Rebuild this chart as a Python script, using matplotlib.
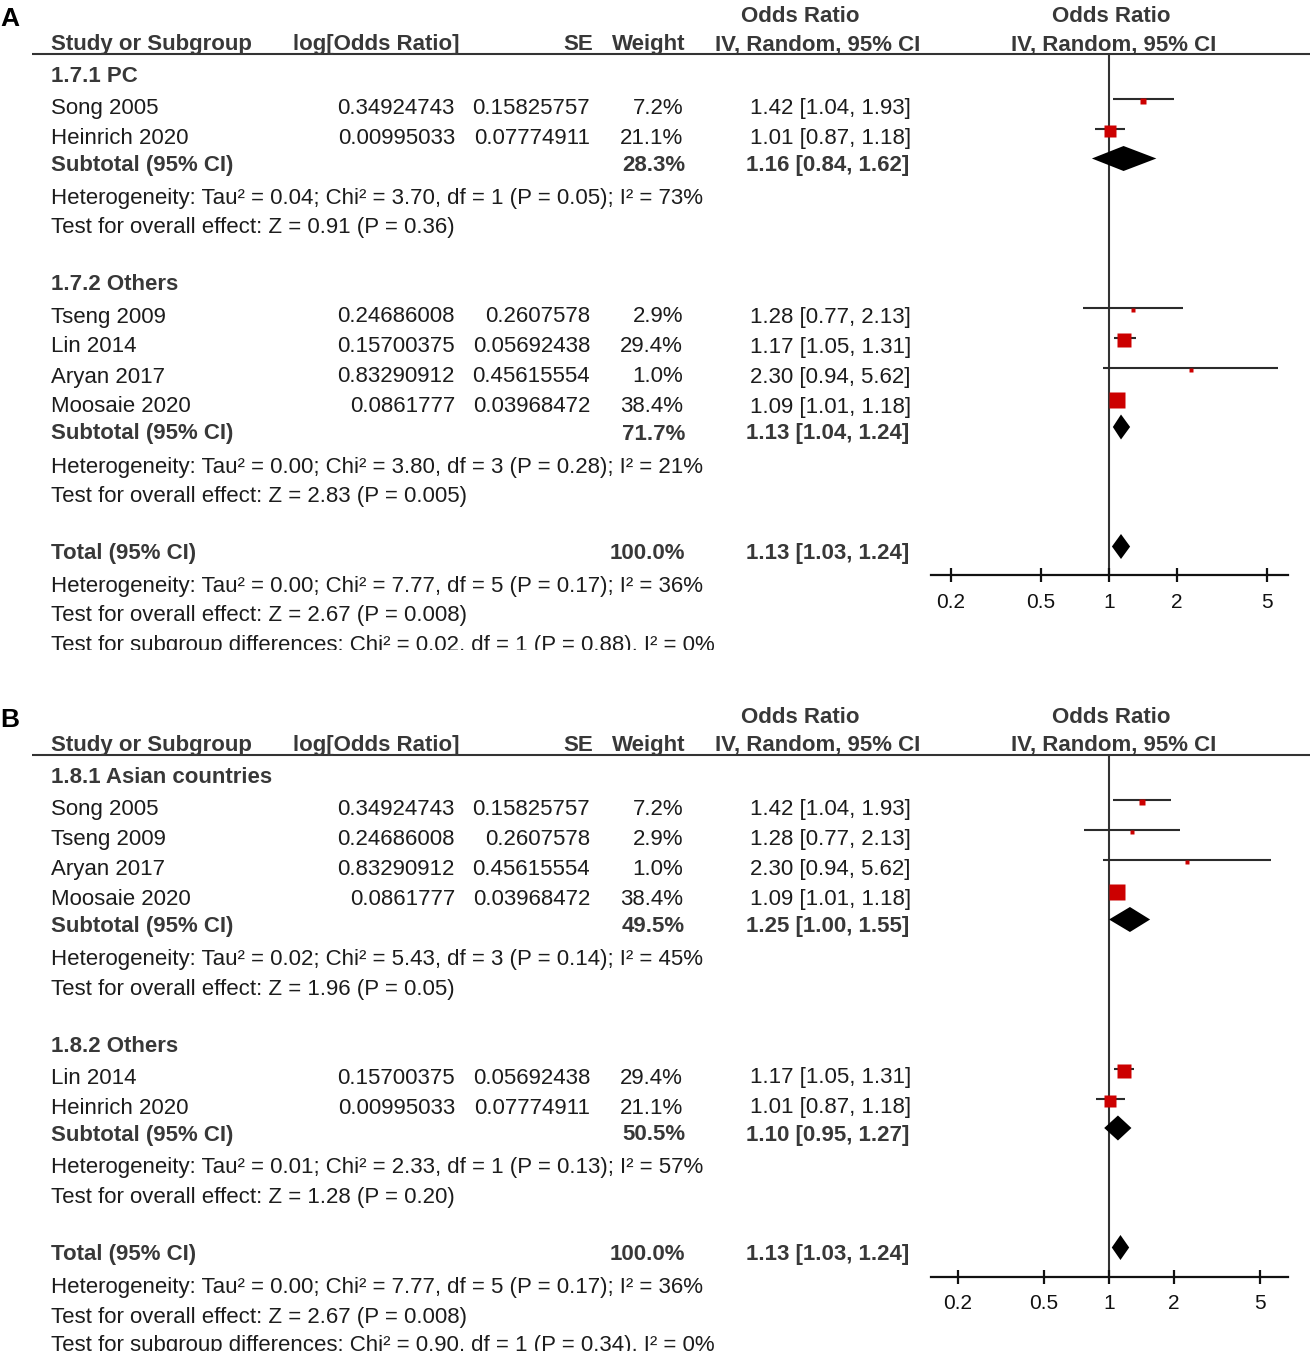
import numpy as np
import matplotlib
matplotlib.use("Agg")
import matplotlib.pyplot as plt
from matplotlib.patches import Polygon
from matplotlib.transforms import Bbox, TransformedBbox

# ---------------- data ----------------
# Panel A
A_label = "A"
A_groups = ["1.7.1 PC", "1.7.2 Others"]
A_study = ["Song 2005", "Heinrich 2020", "Tseng 2009", "Lin 2014", "Aryan 2017", "Moosaie 2020"]
A_group_idx = [0, 0, 1, 1, 1, 1]
A_logor = ["0.34924743", "0.00995033", "0.24686008", "0.15700375", "0.83290912", "0.0861777"]
A_se = ["0.15825757", "0.07774911", "0.2607578", "0.05692438", "0.45615554", "0.03968472"]
A_weight = [7.2, 21.1, 2.9, 29.4, 1.0, 38.4]
A_or = [1.42, 1.01, 1.28, 1.17, 2.30, 1.09]
A_lo = [1.04, 0.87, 0.77, 1.05, 0.94, 1.01]
A_hi = [1.93, 1.18, 2.13, 1.31, 5.62, 1.18]
A_sub_weight = [28.3, 71.7]
A_sub_or = [1.16, 1.13]
A_sub_lo = [0.84, 1.04]
A_sub_hi = [1.62, 1.24]
A_het = ["Heterogeneity: Tau² = 0.04; Chi² = 3.70, df = 1 (P = 0.05); I² = 73%",
         "Heterogeneity: Tau² = 0.00; Chi² = 3.80, df = 3 (P = 0.28); I² = 21%"]
A_test = ["Test for overall effect: Z = 0.91 (P = 0.36)",
          "Test for overall effect: Z = 2.83 (P = 0.005)"]
A_total = [100.0, 1.13, 1.03, 1.24]
A_total_het = "Heterogeneity: Tau² = 0.00; Chi² = 7.77, df = 5 (P = 0.17); I² = 36%"
A_total_test = "Test for overall effect: Z = 2.67 (P = 0.008)"
A_subdiff = "Test for subgroup differences: Chi² = 0.02, df = 1 (P = 0.88), I² = 0%"

# Panel B
B_label = "B"
B_groups = ["1.8.1 Asian countries", "1.8.2 Others"]
B_study = ["Song 2005", "Tseng 2009", "Aryan 2017", "Moosaie 2020", "Lin 2014", "Heinrich 2020"]
B_group_idx = [0, 0, 0, 0, 1, 1]
B_logor = ["0.34924743", "0.24686008", "0.83290912", "0.0861777", "0.15700375", "0.00995033"]
B_se = ["0.15825757", "0.2607578", "0.45615554", "0.03968472", "0.05692438", "0.07774911"]
B_weight = [7.2, 2.9, 1.0, 38.4, 29.4, 21.1]
B_or = [1.42, 1.28, 2.30, 1.09, 1.17, 1.01]
B_lo = [1.04, 0.77, 0.94, 1.01, 1.05, 0.87]
B_hi = [1.93, 2.13, 5.62, 1.18, 1.31, 1.18]
B_sub_weight = [49.5, 50.5]
B_sub_or = [1.25, 1.10]
B_sub_lo = [1.00, 0.95]
B_sub_hi = [1.55, 1.27]
B_het = ["Heterogeneity: Tau² = 0.02; Chi² = 5.43, df = 3 (P = 0.14); I² = 45%",
         "Heterogeneity: Tau² = 0.01; Chi² = 2.33, df = 1 (P = 0.13); I² = 57%"]
B_test = ["Test for overall effect: Z = 1.96 (P = 0.05)",
          "Test for overall effect: Z = 1.28 (P = 0.20)"]
B_total = [100.0, 1.13, 1.03, 1.24]
B_total_het = "Heterogeneity: Tau² = 0.00; Chi² = 7.77, df = 5 (P = 0.17); I² = 36%"
B_total_test = "Test for overall effect: Z = 2.67 (P = 0.008)"
B_subdiff = "Test for subgroup differences: Chi² = 0.90, df = 1 (P = 0.34), I² = 0%"

tick_vals = [0.2, 0.5, 1, 2, 5]
tick_labels = ["0.2", "0.5", "1", "2", "5"]

# ---------------- style / layout ----------------
W, H = 1310, 1352
FONT = "Liberation Sans"
FS = 16.0
TXT = "#1c1c1c"
BOLDC = "#383838"
RED = "#CC0000"
LINEC = "#2b2b2b"

fig = plt.figure(figsize=(W / 100, H / 100), dpi=100)
ax = fig.add_axes([0, 0, 1, 1])
ax.set_xlim(0, W)
ax.set_ylim(H, 0)
ax.axis("off")


def T(x, y, s, ha="left", bold=False, size=FS, color=None, clip_y=None):
    t = ax.text(x, y, s, ha=ha, va="baseline", fontsize=size, family=FONT,
                fontweight="bold" if bold else "normal",
                color=color if color else (BOLDC if bold else TXT))
    if clip_y is not None:
        t.set_clip_on(True)
        t.set_clip_box(TransformedBbox(Bbox([[0, 0], [W, clip_y]]), ax.transData))
    return t


def ci_text(o, l, h):
    return f"{o:.2f} [{l:.2f}, {h:.2f}]"


def draw_panel(y0, label, groups, study, gidx, logor, se, weight, orr, lo, hi,
               sw, sor, slo, shi, het, test, total, thet, ttest, sdiff,
               px_per_dec, clip_y):
    # panel letter
    ax.text(0, y0 + 26, label, ha="left", va="baseline", fontsize=19,
            family=FONT, fontweight="bold", color="black")
    # headers
    T(800, y0 + 22, "Odds Ratio", ha="center", bold=True)
    T(1111, y0 + 22, "Odds Ratio", ha="center", bold=True)
    T(51, y0 + 50, "Study or Subgroup", bold=True)
    T(293, y0 + 50, "log[Odds Ratio]", bold=True)
    T(593, y0 + 50, "SE", ha="right", bold=True)
    T(685, y0 + 50, "Weight", ha="right", bold=True)
    T(920, y0 + 50, "IV, Random, 95% CI", ha="right", bold=True)
    T(1114, y0 + 50, "IV, Random, 95% CI", ha="center", bold=True)
    rule_y = y0 + 53.5
    ax.plot([32, W], [rule_y, rule_y], color="#333333", lw=1.5, solid_capstyle="butt")

    # forest axes
    axis_y = y0 + 575.5
    xl, xr, x1 = 930.7, 1287.7, 1109.0
    fa = fig.add_axes([xl / W, 1 - axis_y / H, (xr - xl) / W, (axis_y - rule_y) / H])
    fa.set_xscale("log")
    fa.set_xlim(10 ** ((xl - x1) / px_per_dec), 10 ** ((xr - x1) / px_per_dec))
    fa.set_ylim(axis_y, rule_y)
    fa.patch.set_alpha(0)
    for s in ["top", "left", "right"]:
        fa.spines[s].set_visible(False)
    fa.spines["bottom"].set_linewidth(1.6)
    fa.spines["bottom"].set_color("#111111")
    fa.set_yticks([])
    fa.set_xticks(tick_vals)
    fa.set_xticklabels(tick_labels)
    fa.xaxis.set_minor_locator(matplotlib.ticker.NullLocator())
    fa.tick_params(axis="x", direction="inout", length=9.5, width=1.6, pad=7.5,
                   labelsize=15, color="#111111", labelcolor="#111111")
    for lab in fa.get_xticklabels():
        lab.set_family(FONT)
    fa.axvline(1, color="#333333", lw=1.5, zorder=1)

    def diamond(yb, o, l, h):
        yc = yb - 12.5
        fa.add_patch(Polygon([(l, yc), (o, yc - 12.5), (h, yc), (o, yc + 12.5)],
                             closed=True, facecolor="black", edgecolor="none", zorder=4))

    n = len(study)
    y = y0 + 82
    for g in range(len(groups)):
        T(51, y, groups[g], bold=True)
        y += 32
        for i in [k for k in range(n) if gidx[k] == g]:
            T(51, y, study[i])
            T(455, y, logor[i], ha="right")
            T(590, y, se[i], ha="right")
            T(683, y, f"{weight[i]:.1f}%", ha="right")
            T(911, y, ci_text(orr[i], lo[i], hi[i]), ha="right")
            fa.hlines(y - 15, lo[i], hi[i], color=LINEC, lw=1.5, zorder=2)
            side = max(4.0, 2.45 * np.sqrt(weight[i]))
            fa.plot([orr[i]], [y - 13], marker="s", ms=side * 0.72, color=RED,
                    mec="none", ls="none", zorder=3)
            y += 30
        y -= 3
        T(51, y, "Subtotal (95% CI)", bold=True)
        T(685, y, f"{sw[g]:.1f}%", ha="right", bold=True)
        T(909, y, ci_text(sor[g], slo[g], shi[g]), ha="right", bold=True)
        diamond(y, sor[g], slo[g], shi[g])
        y += 33
        T(51, y, het[g])
        y += 29.5
        T(51, y, test[g])
        y += 57
    T(51, y, "Total (95% CI)", bold=True)
    T(685, y, f"{total[0]:.1f}%", ha="right", bold=True)
    T(909, y, ci_text(total[1], total[2], total[3]), ha="right", bold=True)
    diamond(y, total[1], total[2], total[3])
    y += 33
    T(51, y, thet)
    y += 29.5
    T(51, y, ttest)
    y += 29
    T(51, y, sdiff, clip_y=clip_y)


draw_panel(0, A_label, A_groups, A_study, A_group_idx, A_logor, A_se, A_weight,
           A_or, A_lo, A_hi, A_sub_weight, A_sub_or, A_sub_lo, A_sub_hi,
           A_het, A_test, A_total, A_total_het, A_total_test, A_subdiff,
           226.0, 650)
draw_panel(701, B_label, B_groups, B_study, B_group_idx, B_logor, B_se, B_weight,
           B_or, B_lo, B_hi, B_sub_weight, B_sub_or, B_sub_lo, B_sub_hi,
           B_het, B_test, B_total, B_total_het, B_total_test, B_subdiff,
           216.0, 1351)

fig.savefig("out.png", dpi=100, facecolor="white")
